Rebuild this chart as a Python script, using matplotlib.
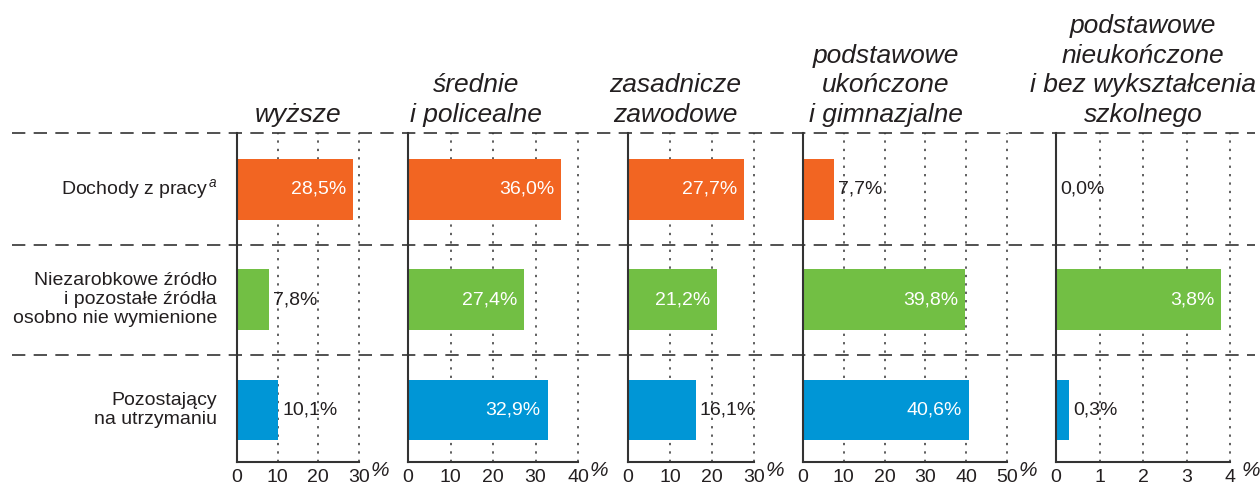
import numpy as np
import matplotlib
matplotlib.use('Agg')
import matplotlib.pyplot as plt
from matplotlib.lines import Line2D
from matplotlib import transforms

plt.rcParams['font.family'] = ['Liberation Sans', 'DejaVu Sans']
plt.rcParams['mathtext.fontset'] = 'custom'
plt.rcParams['mathtext.it'] = 'Liberation Sans:italic'
plt.rcParams['mathtext.rm'] = 'Liberation Sans'

# Data
sources = ['Dochody z pracy$^{\\,a}$',
           'Niezarobkowe źródło\ni pozostałe źródła\nosobno nie wymienione',
           'Pozostający\nna utrzymaniu']
education = ['wyższe',
             'średnie\ni policealne',
             'zasadnicze\nzawodowe',
             'podstawowe\nukończone\ni gimnazjalne',
             'podstawowe\nnieukończone\ni bez wykształcenia\nszkolnego']
income_work = [28.5, 36.0, 27.7, 7.7, 0.0]
non_earned = [7.8, 27.4, 21.2, 39.8, 3.8]
dependent = [10.1, 32.9, 16.1, 40.6, 0.3]
axis_max = [30, 40, 30, 50, 4]
tick_step = [10, 10, 10, 10, 1]
colors = ['#f26522', '#72bf44', '#0096d6']

# Layout (pixels)
W, H = 1260, 487
top_px, bottom_px = 133, 462
panel_left = [237, 408, 628, 803, 1056]
panel_width = [122, 170, 126, 204, 174]
header_x = [298, 476, 675, 886, 1143]
text_color = '#231f20'
line_color = '#333333'

fig = plt.figure(figsize=(W / 100, H / 100), dpi=100)

axes = []
for i in range(5):
    ax = fig.add_axes([panel_left[i] / W, 1 - bottom_px / H,
                       panel_width[i] / W, (bottom_px - top_px) / H])
    axes.append(ax)
    vals = [income_work[i], non_earned[i], dependent[i]]
    ax.barh(range(3), vals, height=0.55, color=colors, zorder=2)
    ax.set_xlim(0, axis_max[i])
    ax.set_ylim(2.47, -0.51)
    ticks = np.arange(0, axis_max[i] + tick_step[i], tick_step[i])
    ax.set_xticks(ticks)
    ax.set_xticklabels([str(t) for t in ticks])
    for t in ticks[1:]:
        ax.axvline(t, color=line_color, lw=1.1, dashes=(1.5, 4), zorder=1,
                   clip_on=False)
    ax.set_yticks([])
    for s in ['top', 'right']:
        ax.spines[s].set_visible(False)
    for s in ['left', 'bottom']:
        ax.spines[s].set_linewidth(1.5)
        ax.spines[s].set_color(line_color)
    ax.tick_params(axis='x', length=0, pad=5, labelsize=14, colors=text_color)

    # value labels
    for j, v in enumerate(vals):
        label = f'{v:.1f}%'.replace('.', ',')
        if v / axis_max[i] > 0.6:
            ax.annotate(label, xy=(v, j), xytext=(-7, 0), textcoords='offset pixels',
                        ha='right', va='center', fontsize=14, color='white')
        else:
            ax.annotate(label, xy=(v, j), xytext=(4, 0), textcoords='offset pixels',
                        ha='left', va='center', fontsize=14, color=text_color)

    # percent sign after the axis
    ax.annotate('%', xy=(1, 0), xycoords='axes fraction', xytext=(12, -9),
                textcoords='offset pixels', ha='left', va='center',
                fontsize=15, style='italic', color=text_color)

    # column header
    fig.text(header_x[i] / W, 1 - 127 / H, education[i], ha='center', va='bottom',
             fontsize=19, style='italic', linespacing=1.3, color=text_color,
             multialignment='center')

# row labels
for j, src in enumerate(sources):
    axes[0].annotate(src, xy=(0, j), xycoords=('axes fraction', 'data'),
                     xytext=(-20, 0), textcoords='offset pixels',
                     ha='right', va='center', fontsize=14, color=text_color,
                     multialignment='right', linespacing=1.15)

# dashed row separators across the whole figure
trans = transforms.blended_transform_factory(fig.transFigure, axes[0].transData)
for y in [-0.51, 0.5, 1.5]:
    fig.add_artist(Line2D([12 / W, 1255 / W], [y, y], transform=trans,
                          color=line_color, lw=1.2, dashes=(8, 5)))

fig.savefig('out.png', dpi=100)
